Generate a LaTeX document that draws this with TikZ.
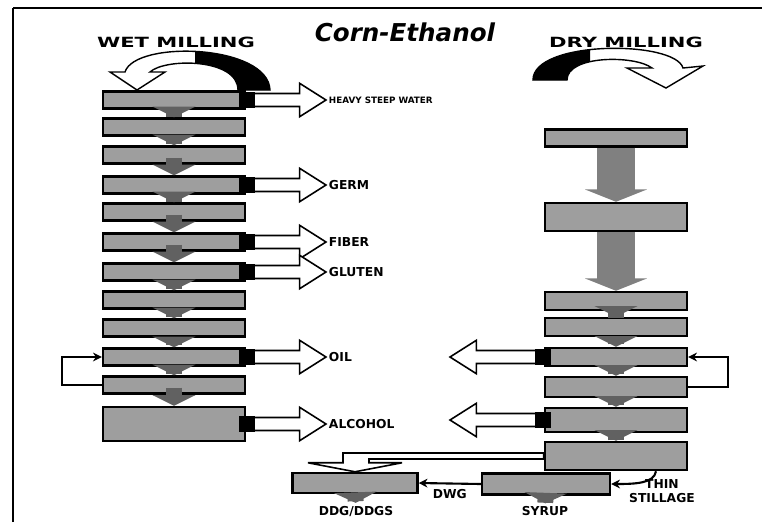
\documentclass[tikz,border=0pt]{standalone}
\usepackage{fontspec}
\setmainfont{DejaVu Sans}
\usetikzlibrary{arrows.meta,calc}

\tikzset{
  procbox/.style={draw, line width=1.4pt, fill=black!38, minimum width=2.84cm, minimum height=0.34cm, inner sep=0pt},
  outlbl/.style={font=\bfseries\fontsize{7}{8}\selectfont, inner sep=1.5pt},
  headlbl/.style={font=\bfseries\fontsize{8}{10}\selectfont},
  stemarr/.style={draw=black!62, line width=9pt, shorten <=-4pt, -{Triangle[width=24pt,length=6pt]}},
  bigstem/.style={draw=black!50, line width=22pt, -{Triangle[width=35pt,length=7pt]}},
  sidearr/.style={draw, line width=0.9pt, fill=white},
  thinarr/.style={line width=1.2pt, -{Stealth[length=5pt,width=5pt]}},
}

% block arrow from #1 to #2, left or right
\newcommand{\sidearrow}[2]{%
  \draw[sidearr] let \p1=(#1), \p2=(#2), \n1={ifthenelse(\x2>\x1,1,-1)} in
    (\x1,\y1+3.7pt) -- ({\x2-\n1*15pt},\y1+3.7pt) -- ({\x2-\n1*15pt},\y1+9.5pt) -- (\x2,\y1)
    -- ({\x2-\n1*15pt},\y1-9.5pt) -- ({\x2-\n1*15pt},\y1-3.7pt) -- (\x1,\y1-3.7pt) -- cycle;
  \fill let \p1=(#1), \p2=(#2), \n1={ifthenelse(\x2>\x1,1,-1)} in
    ({\x1-\n1*4pt},\y1-4.5pt) rectangle ({\x1+\n1*5pt},\y1+4.5pt);}
\newcommand{\widetext}[1]{\scalebox{1.5}[1]{#1}}

\begin{document}
\begin{tikzpicture}[x=0.02cm,y=-0.02cm]
\useasboundingbox (0,0) rectangle (762,522);
% frame
\draw[line width=1.6pt] (13,522) -- (13,8);
\draw[line width=1.1pt] (13,8) -- (762,8);

% headings
\node[font=\bfseries\itshape\fontsize{14}{16}\selectfont] (title) at (405,32) {Corn-Ethanol};
\node[headlbl] (wet) at (176,42) {\widetext{WET MILLING}};
\node[headlbl] (dry) at (626,42) {\widetext{DRY MILLING}};

% turning arrows
\filldraw[fill=white, line width=0.8pt] (270,90) .. controls (268,44) and (135,40) .. (125,72) -- (110,72) -- (137,90) -- (165,72) -- (150,72) .. controls (165,58) and (238,58) .. (238,90) -- cycle;
\begin{scope}
\clip (195,0) rectangle (300,95);
\fill (270,90) .. controls (268,44) and (135,40) .. (125,72) -- (150,72) .. controls (165,58) and (238,58) .. (238,90) -- cycle;
\end{scope}
\filldraw[fill=white, line width=0.8pt] (533,80) .. controls (533,40) and (675,40) .. (683,68) -- (703,66) -- (666,88) -- (627,68) -- (652,68) .. controls (635,55) and (567,55) .. (567,80) -- cycle;
\begin{scope}
\clip (500,0) rectangle (590,95);
\fill (533,80) .. controls (533,40) and (675,40) .. (683,68) -- (652,68) .. controls (635,55) and (567,55) .. (567,80) -- cycle;
\end{scope}

% wet milling
\node[procbox] (w1) at (174,100) {};
\node[procbox] (w2) at (174,127) {};
\node[procbox] (w3) at (174,155) {};
\node[procbox] (w4) at (174,185) {};
\node[procbox] (w5) at (174,212) {};
\node[procbox] (w6) at (174,242) {};
\node[procbox] (w7) at (174,272) {};
\node[procbox] (w8) at (174,300) {};
\node[procbox] (w9) at (174,328) {};
\node[procbox] (w10) at (174,357) {};
\node[procbox] (w11) at (174,385) {};
\node[procbox, minimum height=0.68cm] (w12) at (174,424) {};
\draw[stemarr] (w1) -- (w2);
\draw[stemarr] (w2) -- (w3);
\draw[stemarr] (w3) -- (w4);
\draw[stemarr] (w4) -- (w5);
\draw[stemarr] (w5) -- (w6);
\draw[stemarr] (w6) -- (w7);
\draw[stemarr] (w7) -- (w8);
\draw[stemarr] (w8) -- (w9);
\draw[stemarr] (w9) -- (w10);
\draw[stemarr] (w10) -- (w11);
\draw[stemarr] (w11) -- (w12);
\draw[thinarr] (w11.west) -- ++(-40,0) |- (w10.west);

\node[outlbl, font=\bfseries\fontsize{5}{6}\selectfont, anchor=west] (hsw) at (326,100) {HEAVY STEEP WATER};
\node[outlbl, anchor=west] (germ) at (326,185) {GERM};
\node[outlbl, anchor=west] (fiber) at (326,242) {FIBER};
\node[outlbl, anchor=west] (gluten) at (326,272) {GLUTEN};
\node[outlbl, anchor=west] (oil) at (326,357) {OIL};
\node[outlbl, anchor=west] (alc) at (326,424) {ALCOHOL};
\sidearrow{w1.east}{hsw.west}
\sidearrow{w4.east}{germ.west}
\sidearrow{w6.east}{fiber.west}
\sidearrow{w7.east}{gluten.west}
\sidearrow{w10.east}{oil.west}
\sidearrow{w12.east}{alc.west}

% dry milling
\node[procbox] (d1) at (616,138) {};
\node[procbox, minimum height=0.56cm] (d2) at (616,217) {};
\node[procbox, minimum height=0.36cm] (d3) at (616,301) {};
\node[procbox, minimum height=0.36cm] (d4) at (616,327) {};
\node[procbox, minimum height=0.36cm] (d5) at (616,357) {};
\node[procbox, minimum height=0.4cm] (d6) at (616,387) {};
\node[procbox, minimum height=0.48cm] (d7) at (616,420) {};
\node[procbox, minimum height=0.56cm] (d8) at (616,456) {};
\draw[bigstem] (d1) -- (d2);
\draw[bigstem] (d2) -- (d3);
\draw[stemarr] (d3) -- (d4);
\draw[stemarr] (d4) -- (d5);
\draw[stemarr] (d5) -- (d6);
\draw[stemarr] (d6) -- (d7);
\draw[stemarr] (d7) -- (d8);
\draw[thinarr] (d6.east) -- ++(40,0) |- (d5.east);
\coordinate (oiltip) at (450,357);
\coordinate (alctip) at (450,420);
\sidearrow{d5.west}{oiltip}
\sidearrow{d7.west}{alctip}

% co-products
\node[procbox, minimum width=2.5cm, minimum height=0.4cm] (ddg) at (355,483) {};
\node[procbox, minimum width=2.56cm, minimum height=0.42cm] (syr) at (546,484) {};
\node[outlbl] (ddgl) at (356,511) {DDG/DDGS};
\node[outlbl] (syrl) at (545,511) {SYRUP};
\node[outlbl, align=center] (stil) at (662,491) {THIN\\STILLAGE};
\draw[stemarr] (ddg) -- (ddgl);
\draw[stemarr] (syr) -- (syrl);
\draw[thinarr] (syr.west) -- (ddg.east) node[outlbl, midway, below=1pt] (dwg) {DWG};
\draw[thinarr] ($(d8.south)+(40,0)$) .. controls ($(d8.south)+(38,12)$) and ($(syr.east)+(25,0)$) .. (syr.east);
\draw[sidearr] ($(d8.west)+(0,-3)$) -| ($(ddg.north)+(-12,-9)$) -- ++(-35,0) -- (ddg.north) -- ++(47,-9) -- ++(-33,0) |- ($(d8.west)+(0,3)$) -- cycle;
\end{tikzpicture}
\end{document}
